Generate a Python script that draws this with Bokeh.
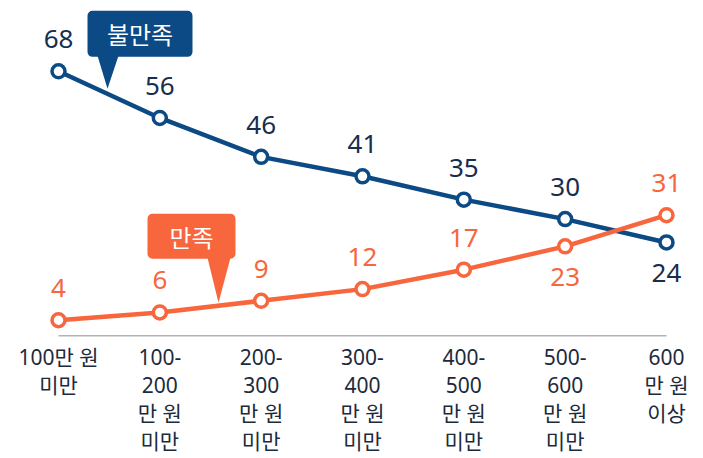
from bokeh.plotting import figure
from bokeh.models import Range1d
from bokeh.core.properties import value
from bokeh.embed import file_html
from bokeh.resources import INLINE

categories = ["100만 원\n미만", "100-\n200\n만 원\n미만", "200-\n300\n만 원\n미만", "300-\n400\n만 원\n미만",
              "400-\n500\n만 원\n미만", "500-\n600\n만 원\n미만", "600\n만 원\n이상"]
dissatisfied = [68, 56, 46, 41, 35, 30, 24]
satisfied = [4, 6, 9, 12, 17, 23, 31]
series_names = ["불만족", "만족"]

W, H = 703, 458
X0, PX = 58.0, 101.33      # pixel of first category, px per category
Y0, PY = 335.3, 3.89       # pixel (from top) of value 0, px per unit

BLUE = "#0b4a84"
ORANGE = "#f7663c"
NAVY_TXT = "#172e4d"
CAT_TXT = "#1c2a3c"
FONT = "Noto Sans, Noto Sans CJK KR"
KFONT = "Noto Sans CJK KR"

p = figure(width=W, height=H, output_backend="svg", toolbar_location=None,
           x_axis_type=None, y_axis_type=None, min_border=0,
           x_range=Range1d(-X0 / PX, (W - X0) / PX),
           y_range=Range1d((Y0 - H) / PY, Y0 / PY))
p.outline_line_color = None
p.xgrid.visible = False
p.ygrid.visible = False
p.background_fill_color = "white"
p.border_fill_color = "white"

xs = list(range(len(categories)))

# baseline
p.line([xs[0], xs[-1]], [0, 0], line_color="#b3b3b3", line_width=1.5)

def dx(px):
    return px / PX

def dy(px):
    return px / PY

for vals, col in ((dissatisfied, BLUE), (satisfied, ORANGE)):
    p.line(xs, vals, line_color=col, line_width=4.5)
    p.scatter(xs, vals, size=13, fill_color="white", line_color=col, line_width=3.5)

# value labels
def label_pos(vals, other):
    out = []
    for v, o in zip(vals, other):
        below = v < o and (o - v) < 10
        out.append(v - dy(31) if below else v + dy(32))
    return out

p.text(xs, label_pos(dissatisfied, satisfied), text=[str(v) for v in dissatisfied],
       text_align="center", text_baseline="middle", text_color=NAVY_TXT,
       text_font=value(FONT), text_font_size="26px")
p.text(xs, label_pos(satisfied, dissatisfied), text=[str(v) for v in satisfied],
       text_align="center", text_baseline="middle", text_color=ORANGE,
       text_font=value(FONT), text_font_size="26px")

# category labels
p.text(xs, [-dy(7)] * len(xs), text=categories, text_align="center", text_baseline="top",
       text_color=CAT_TXT, text_font=value(FONT), text_font_size="21px", text_line_height=1.0)

# callouts
def callout(vals, frac_x, lift, left, right, height, gap, tri_l, tri_r, col, txt):
    i = int(frac_x)
    f = frac_x - i
    ty = vals[i] + (vals[i + 1] - vals[i]) * f + dy(lift)
    tx = frac_x
    bottom = ty + dy(gap)
    top = bottom + dy(height)
    p.quad(left=[tx - dx(left)], right=[tx + dx(right)], bottom=[bottom], top=[top],
           fill_color=col, line_color=None, border_radius=5)
    p.patch([tx - dx(tri_l), tx + dx(tri_r), tx], [bottom + dy(1), bottom + dy(1), ty],
            fill_color=col, line_color=None)
    p.text([tx + dx((right - left) / 2)], [(top + bottom) / 2], text=[txt],
           text_align="center", text_baseline="middle", text_color="white",
           text_font=value(KFONT), text_font_size="24px")

callout(dissatisfied, (107 - X0) / PX, 5, 20, 85, 46, 32, 10, 11, BLUE, series_names[0])
callout(satisfied, (218 - X0) / PX, 3, 71, 17, 45, 44, 11, 12, ORANGE, series_names[1])

open("out.html", "w").write(file_html(p, INLINE))
